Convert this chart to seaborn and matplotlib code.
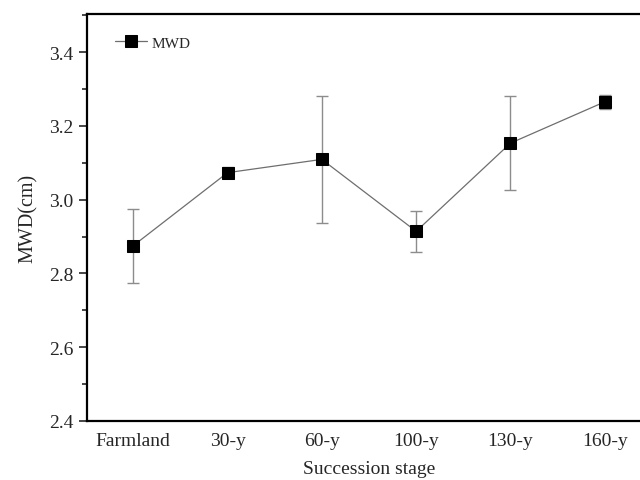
import numpy as np
import pandas as pd
import matplotlib
matplotlib.use("Agg")
import matplotlib.pyplot as plt
import seaborn as sns
from matplotlib.ticker import MultipleLocator

# Data
stages = ['Farmland', '30-y', '60-y', '100-y', '130-y', '160-y']
mwd = [2.875, 3.073, 3.109, 2.914, 3.153, 3.265]
mwd_err = [0.100, 0.015, 0.172, 0.055, 0.127, 0.019]

sns.set_style("ticks")
plt.rcParams['font.family'] = ['Liberation Serif', 'DejaVu Serif']

df = pd.DataFrame({'Stage': stages, 'MWD': mwd, 'err': mwd_err})
df['pos'] = np.arange(len(df))

fig = plt.figure(figsize=(6.4, 4.81), dpi=100)
ax = fig.add_axes([87 / 640, (481 - 422) / 481, (651 - 87) / 640, (422 - 15) / 481])

# error bars
ax.errorbar(df['pos'], df['MWD'], yerr=df['err'], fmt='none',
            ecolor='#8c8c8c', elinewidth=1.0, capsize=4, capthick=1.0, zorder=2)

# line + square markers
sns.lineplot(data=df, x='pos', y='MWD', ax=ax, color='#6e6e6e', linewidth=0.9,
             marker='s', markersize=9, markerfacecolor='black',
             markeredgecolor='black', label='MWD', zorder=3)

ax.set_xlim(-0.49, 5.49)
ax.set_ylim(2.4, 3.503)
ax.set_xticks(df['pos'])
ax.set_xticklabels(stages)
ax.yaxis.set_major_locator(MultipleLocator(0.2))
ax.yaxis.set_minor_locator(MultipleLocator(0.1))
ax.yaxis.set_major_formatter(matplotlib.ticker.FormatStrFormatter('%.1f'))
ax.tick_params(axis='x', length=0, labelsize=14, pad=8)
ax.tick_params(axis='y', which='major', length=6, width=1.2, labelsize=14, direction='out')
ax.tick_params(axis='y', which='minor', length=3.5, width=1.2, direction='out')

for side in ['left', 'bottom', 'top', 'right']:
    ax.spines[side].set_linewidth(1.6)
    ax.spines[side].set_color('black')

ax.set_xlabel('Succession stage', fontsize=14, labelpad=8)
ax.set_ylabel('MWD(cm)', fontsize=14.5, labelpad=8)

leg = ax.legend(loc='upper left', frameon=False, fontsize=11,
                handlelength=2.1, handletextpad=0.3, borderpad=0,
                borderaxespad=0, bbox_to_anchor=(0.05, 0.946))

fig.savefig('out.png', dpi=100)
